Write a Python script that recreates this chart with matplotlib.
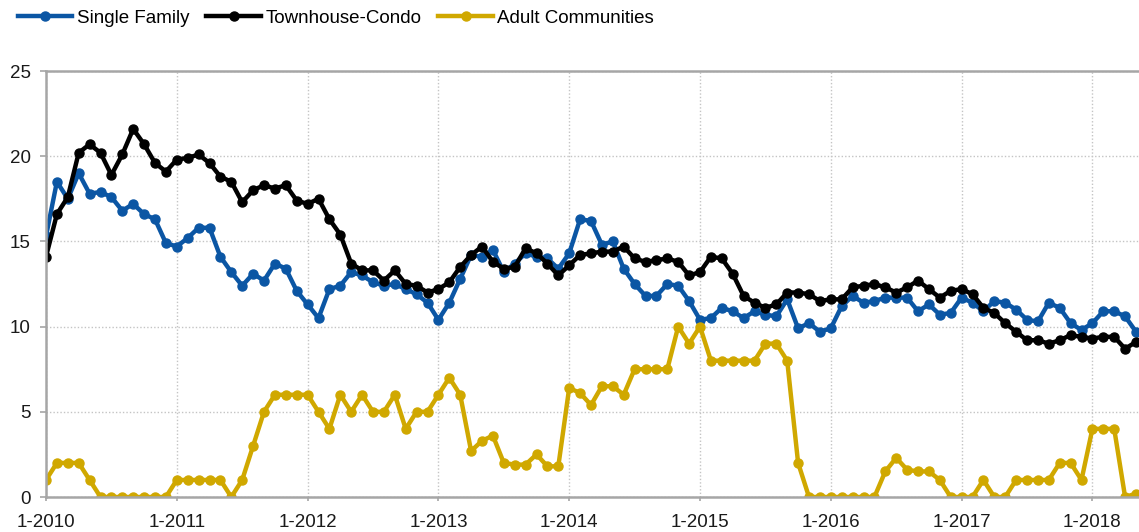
import numpy as np
import matplotlib
matplotlib.use("Agg")
import matplotlib.pyplot as plt

plt.rcParams["font.family"] = ["Liberation Sans", "DejaVu Sans"]

# ── data (monthly, 1-2010 .. 5-2018) ──────────────────────
single_family = [
    15.3, 18.5, 17.5, 19.0, 17.8, 17.9, 17.6, 16.8, 17.2, 16.6, 16.3, 14.9,
    14.7, 15.2, 15.8, 15.8, 14.1, 13.2, 12.4, 13.1, 12.7, 13.7, 13.4, 12.1,
    11.3, 10.5, 12.2, 12.4, 13.2, 13.0, 12.6, 12.4, 12.5, 12.2, 11.9, 11.4,
    10.4, 11.4, 12.8, 14.2, 14.1, 14.5, 13.2, 13.7, 14.3, 14.1, 14.0, 13.4,
    14.3, 16.3, 16.2, 14.8, 15.0, 13.4, 12.5, 11.8, 11.8, 12.5, 12.4, 11.5,
    10.4, 10.5, 11.1, 10.9, 10.5, 10.9, 10.7, 10.6, 11.6, 9.9, 10.2, 9.7,
    9.9, 11.2, 11.8, 11.4, 11.5, 11.7, 11.7, 11.7, 10.9, 11.3, 10.7, 10.8,
    11.7, 11.4, 10.9, 11.5, 11.4, 11.0, 10.4, 10.3, 11.4, 11.1, 10.2, 9.8,
    10.2, 10.9, 10.9, 10.6, 9.7,
]
townhouse_condo = [
    14.1, 16.6, 17.6, 20.2, 20.7, 20.2, 18.9, 20.1, 21.6, 20.7, 19.6, 19.1,
    19.8, 19.9, 20.1, 19.6, 18.8, 18.5, 17.3, 18.0, 18.3, 18.1, 18.3, 17.4,
    17.2, 17.5, 16.3, 15.4, 13.7, 13.3, 13.3, 12.7, 13.3, 12.5, 12.4, 12.0,
    12.2, 12.6, 13.5, 14.2, 14.7, 13.8, 13.4, 13.5, 14.6, 14.3, 13.7, 13.0,
    13.6, 14.2, 14.3, 14.4, 14.4, 14.7, 14.0, 13.8, 13.9, 14.0, 13.8, 13.0,
    13.2, 14.1, 14.0, 13.1, 11.8, 11.4, 11.1, 11.3, 12.0, 12.0, 11.9, 11.5,
    11.6, 11.6, 12.3, 12.4, 12.5, 12.3, 12.0, 12.3, 12.7, 12.2, 11.7, 12.1,
    12.2, 11.9, 11.1, 10.8, 10.2, 9.7, 9.2, 9.2, 9.0, 9.2, 9.5, 9.4,
    9.3, 9.4, 9.4, 8.7, 9.1,
]
adult_communities = [
    1, 2, 2, 2, 1, 0, 0, 0, 0, 0, 0, 0,
    1, 1, 1, 1, 1, 0, 1, 3, 5, 6, 6, 6,
    6, 5, 4, 6, 5, 6, 5, 5, 6, 4, 5, 5,
    6, 7, 6, 2.7, 3.3, 3.6, 2.0, 1.9, 1.9, 2.5, 1.8, 1.8,
    6.4, 6.1, 5.4, 6.5, 6.5, 6.0, 7.5, 7.5, 7.5, 7.5, 10, 9,
    10, 8, 8, 8, 8, 8, 9, 9, 8, 2, 0, 0,
    0, 0, 0, 0, 0, 1.5, 2.3, 1.6, 1.5, 1.5, 1.0, 0,
    0, 0, 1, 0, 0, 1, 1, 1, 1, 2, 2, 1,
    4, 4, 4, 0, 0.2,
]
year_labels = ["1-2010", "1-2011", "1-2012", "1-2013", "1-2014",
               "1-2015", "1-2016", "1-2017", "1-2018"]

# ── plot ──────────────────────────────────────────────────
W, H = 1139, 532
fig = plt.figure(figsize=(W / 100, H / 100), dpi=100)
ax = fig.add_axes([46 / W, 1 - 497 / H, (W - 46) / W, (497 - 71) / H])

x = np.arange(len(single_family))
style = dict(linewidth=3.2, marker="o", markersize=6.5, solid_joinstyle="round")
ax.plot(x, single_family, color="#0b56a4", label="Single Family", **style)
ax.plot(x, townhouse_condo, color="#000000", label="Townhouse-Condo", **style)
ax.plot(x, adult_communities, color="#d0a800", label="Adult Communities", **style)

ax.set_xlim(0, (W - 46) / 10.9)
ax.set_ylim(0, 25)
ax.set_yticks([0, 5, 10, 15, 20, 25])
ax.set_xticks(np.arange(len(year_labels)) * 12)
ax.set_xticklabels(year_labels)

ax.grid(True, color="#c4c4c4", linestyle=(0, (1, 1.5)), linewidth=1)
ax.set_axisbelow(True)

for side in ["left", "bottom", "top"]:
    ax.spines[side].set_color("#a6a6a6")
    ax.spines[side].set_linewidth(1.8)
ax.spines["right"].set_visible(False)

ax.tick_params(axis="y", length=4, width=1.2, color="#a6a6a6", pad=7,
               labelsize=13.5, labelcolor="#1a1a1a")
ax.tick_params(axis="x", length=3, width=1.2, color="#a6a6a6", pad=9,
               labelsize=13.5, labelcolor="#1a1a1a")

fig.legend(loc="center left", bbox_to_anchor=(18 / W, 1 - 18 / H),
           ncol=3, frameon=False, fontsize=13.5, numpoints=1,
           handlelength=2.9, handletextpad=0.25, columnspacing=0.9,
           borderpad=0, borderaxespad=0)

fig.savefig("out.png", dpi=100)
